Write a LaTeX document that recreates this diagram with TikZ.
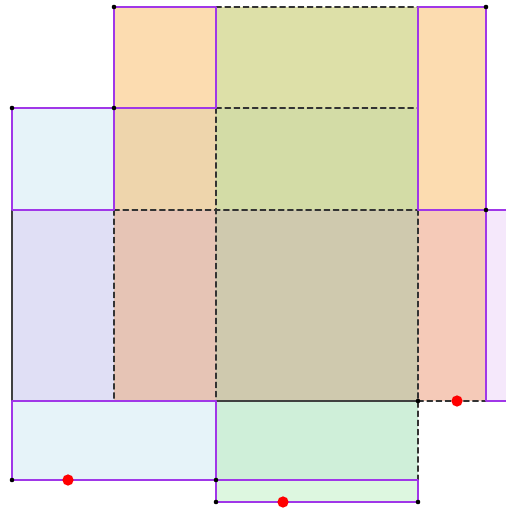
\documentclass[tikz,border=0pt]{standalone}
\begin{document}
\begin{tikzpicture}[x=0.01cm, y=-0.01cm, line cap=round, line join=round]
  \definecolor{peach}{RGB}{252,220,176}
  \definecolor{lblue}{RGB}{230,243,249}
  \definecolor{lav}{RGB}{224,223,245}
  \definecolor{tan}{RGB}{238,213,172}
  \definecolor{rosy}{RGB}{230,196,181}
  \definecolor{ygreen}{RGB}{221,224,168}
  \definecolor{sgreen}{RGB}{211,220,166}
  \definecolor{olive}{RGB}{207,201,174}
  \definecolor{salmon}{RGB}{245,202,184}
  \definecolor{lpurple}{RGB}{245,232,251}
  \definecolor{mint}{RGB}{207,239,217}
  \definecolor{lmint}{RGB}{221,247,224}
  \definecolor{edgeviolet}{RGB}{160,55,232}
  \useasboundingbox (0,0) rectangle (506,509);
  % filled cells
  \foreach \xa/\ya/\xb/\yb/\c in {114/7/216/108/peach, 216/7/418/108/ygreen, 418/7/486/210/peach,
      12/108/114/210/lblue, 114/108/216/210/tan, 216/108/418/210/sgreen,
      12/210/114/401/lav, 114/210/216/401/rosy, 216/210/418/401/olive,
      418/210/486/401/salmon, 486/210/506/401/lpurple,
      12/401/216/480/lblue, 216/401/418/480/mint, 216/480/418/502/lmint}
    \fill[\c] (\xa,\ya) rectangle (\xb,\yb);
  % hidden edges
  \draw[black!80, line width=0.45pt, dash pattern=on 1.5pt off 1.1pt]
    (216,7)--(418,7) (216,108)--(418,108) (114,210)--(418,210)
    (114,210)--(114,401) (216,108)--(216,401) (418,210)--(418,480)
    (418,401)--(486,401);
  \draw[black!75, line width=0.3pt] (12,210)--(12,401) (216,401)--(418,401);
  % outlines
  \draw[edgeviolet, line width=0.75pt]
    (114,7) rectangle (216,108) (12,108) rectangle (114,210)
    (418,7) rectangle (486,210) (486,210)--(506,210) (486,210)--(486,401)--(506,401)
    (12,401) rectangle (216,480) (216,401)--(216,480)
    (216,480) rectangle (418,502);
  % points
  \foreach \x/\y in {114/7, 486/7, 12/108, 114/108, 486/210, 418/401, 12/480, 216/480, 216/502, 418/502}
    \fill (\x,\y) circle (0.65pt);
  \foreach \x/\y in {457/401, 68/480, 283/502}
    \fill[red] (\x,\y) circle (1.6pt);
\end{tikzpicture}
\end{document}
